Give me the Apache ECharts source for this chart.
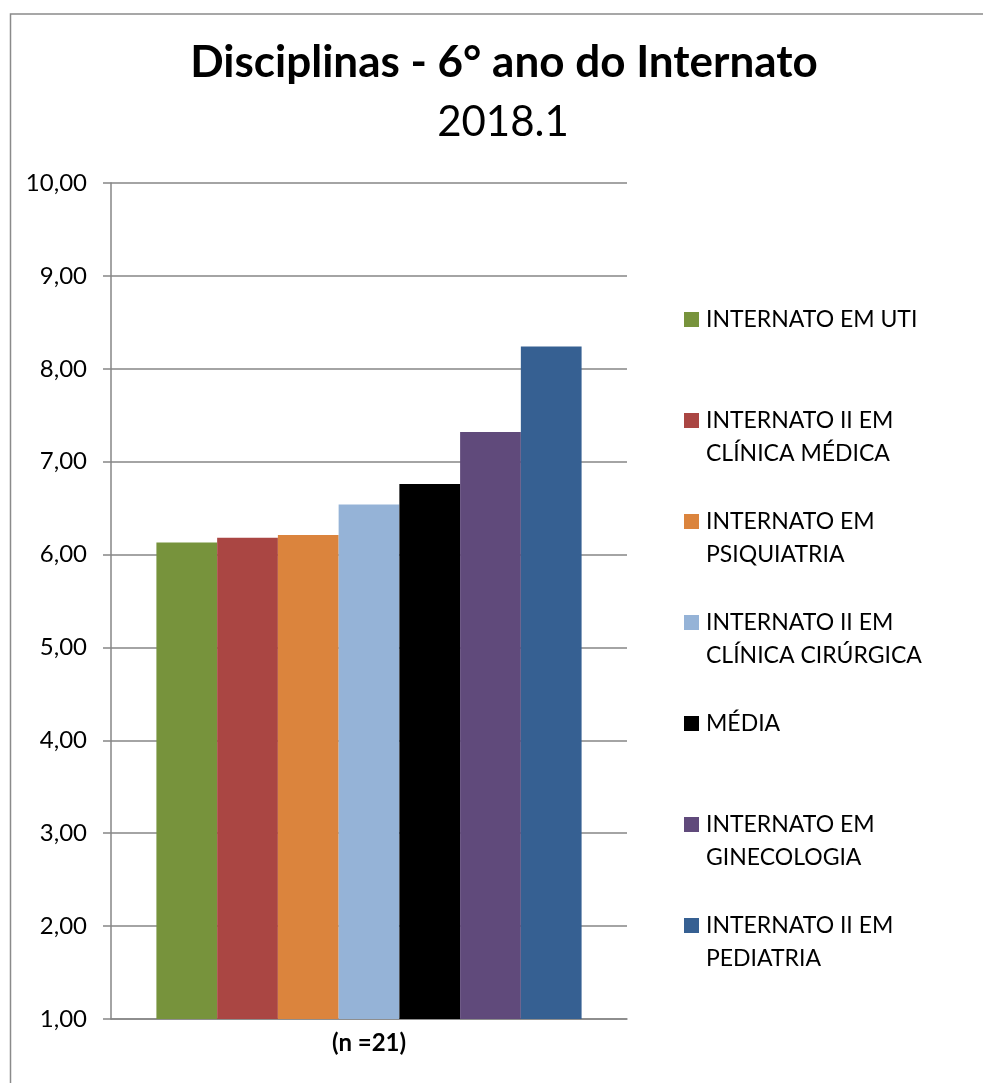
<!DOCTYPE html>
<html>
<head>
<meta charset="utf-8">
<script src="https://cdn.jsdelivr.net/npm/echarts@6/dist/echarts.min.js"></script>
<style>
html,body{margin:0;padding:0;background:#fff;}
#chart{width:983px;height:1083px;}
</style>
</head>
<body>
<div id="chart"></div>
<script>
var categories = ['(n =21)'];
var seriesNames = [
  'INTERNATO EM UTI',
  'INTERNATO II EM\nCLÍNICA MÉDICA',
  'INTERNATO EM\nPSIQUIATRIA',
  'INTERNATO II EM\nCLÍNICA CIRÚRGICA',
  'MÉDIA',
  'INTERNATO EM\nGINECOLOGIA',
  'INTERNATO II EM\nPEDIATRIA'
];
var seriesValues = [6.13, 6.18, 6.21, 6.54, 6.76, 7.32, 8.24];
var seriesColors = ['#77933C', '#AA4643', '#DB843D', '#95B3D7', '#000000', '#604A7B', '#366092'];
var yTickLabels = ['1,00','2,00','3,00','4,00','5,00','6,00','7,00','8,00','9,00','10,00'];

var chart = echarts.init(document.getElementById('chart'), null, {renderer: 'canvas'});

var series = seriesNames.map(function (name, i) {
  return {
    name: name,
    type: 'bar',
    data: [seriesValues[i]],
    barGap: '0%',
    barCategoryGap: '17.6%',
    itemStyle: {color: seriesColors[i]}
  };
});

chart.setOption({
  animation: false,
  backgroundColor: '#ffffff',
  textStyle: {fontFamily: 'Lato'},
  title: [{
    text: 'Disciplinas - 6° ano do Internato',
    left: 499,
    top: 36,
    textAlign: 'center',
    textStyle: {fontFamily: 'Lato', fontWeight: 'bold', fontSize: 44, color: '#000'}
  }, {
    text: '2018.1',
    left: 498,
    top: 96,
    textAlign: 'center',
    textStyle: {fontFamily: 'Lato', fontWeight: 'normal', fontSize: 42, color: '#000'}
  }],
  graphic: [{
    type: 'rect',
    left: 8, top: 11.5,
    shape: {width: 1000, height: 1100},
    style: {fill: 'none', stroke: '#8a8a8a', lineWidth: 1.5},
    silent: true
  }],
  legend: {
    orient: 'vertical',
    left: 684,
    top: 270,
    itemWidth: 15,
    itemHeight: 15,
    itemGap: 2,
    icon: 'rect',
    padding: 0,
    data: seriesNames,
    formatter: function (name) {
      return '\n' + name + (name.indexOf('\n') >= 0 ? '' : '\n');
    },
    textStyle: {fontFamily: 'Lato', fontSize: 23, lineHeight: 33, color: '#000', padding: [0, 0, 0, 2]}
  },
  grid: {left: 111, right: 356, top: 183, bottom: 64, containLabel: false},
  xAxis: {
    type: 'category',
    data: categories,
    axisLine: {show: true, lineStyle: {color: '#868686', width: 1.5}},
    axisTick: {show: false},
    axisLabel: {fontFamily: 'Lato', fontWeight: 'bold', fontSize: 24, color: '#000', margin: 12}
  },
  yAxis: {
    type: 'value',
    min: 1, max: 10, interval: 1,
    axisLine: {show: true, lineStyle: {color: '#868686', width: 1.5}},
    axisTick: {show: true, inside: false, length: 8, lineStyle: {color: '#868686', width: 1.5}},
    splitLine: {show: true, lineStyle: {color: '#868686', width: 1.5}},
    axisLabel: {
      fontFamily: 'Lato', fontSize: 24, color: '#000', margin: 24,
      formatter: function (v) { return yTickLabels[Math.round(v) - 1]; }
    }
  },
  series: series
});
</script>
</body>
</html>
